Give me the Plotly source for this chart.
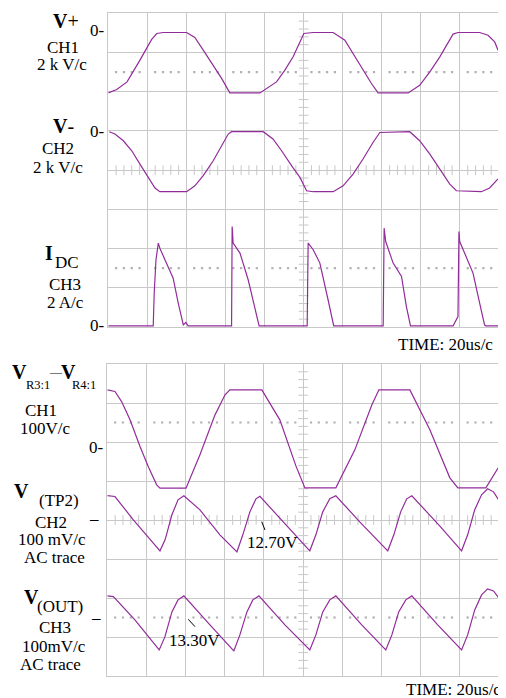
import plotly.graph_objects as go

W, H = 506, 698
OFF = 8  # page body margin in the browser

# ---------------- data (time in us, 20 us/div) ----------------
time_ticks = list(range(0, 201, 20))

# Top screen
vplus_t = [0, 4.3, 9.6, 12.8, 16.2, 19.6, 22.2, 24.8, 28.1, 40.1, 44.3, 48.6, 53.7, 58.0, 61.4, 62.2,
           77.6, 81.0, 86.1, 90.4, 94.6, 98.1, 100.1, 104.9, 115.1, 121.1, 125.3, 130.4, 134.7, 138.1,
           153.5, 159.4, 164.6, 169.7, 173.9, 176.5, 179.0, 190.1, 194.4, 197.8, 199.5]
vplus_kv = [-3.20, -3.03, -2.64, -2.13, -1.53, -0.93, -0.47, -0.17, -0.12, -0.12, -0.37, -1.02, -1.79, -2.46, -3.06, -3.20,
            -3.20, -2.97, -2.64, -2.04, -1.36, -0.60, -0.17, -0.12, -0.12, -0.51, -1.19, -2.04, -2.72, -3.20,
            -3.20, -2.81, -2.13, -1.36, -0.60, -0.20, -0.12, -0.12, -0.26, -0.60, -1.02]

vminus_t = [0.5, 3.4, 7.7, 12.0, 16.2, 20.5, 23.9, 26.4, 40.1, 44.3, 48.6, 53.7, 58.0, 61.4, 63.1,
            79.3, 84.3, 88.7, 93.8, 98.1, 101.5, 104.9, 115.1, 120.2, 125.3, 130.4, 135.5, 139.0,
            154.3, 159.4, 164.6, 169.7, 174.8, 178.2, 191.0, 195.2, 199.5]
vminus_kv = [0, -0.12, -0.46, -0.97, -1.65, -2.33, -2.87, -3.06, -3.06, -2.76, -2.24, -1.48, -0.71, -0.12, 0,
             0, -0.37, -0.97, -1.73, -2.33, -3.01, -3.06, -3.06, -2.76, -2.16, -1.39, -0.55, -0.04,
             0, -0.46, -1.14, -1.90, -2.67, -3.01, -3.06, -2.87, -2.41]

idc_t = [0, 23.0, 23.5, 24.4, 25.6, 26.4, 29.0, 33.2, 35.8, 38.4, 39.7, 40.9, 63.1,
         63.4, 63.9, 67.4, 71.6, 75.0, 77.2, 101.8,
         102.3, 104.9, 108.3, 112.5, 115.1, 115.4, 140.7,
         141.2, 142.0, 145.8, 150.1, 152.6, 154.7, 176.5,
         179.0, 179.5, 179.9, 183.3, 186.7, 190.1, 192.6, 193.2, 199.8]
idc_a = [0, 0, 1.67, 3.37, 4.22, 3.96, 3.37, 2.43, 1.16, 0.05, 0.17, 0, 0,
         5.07, 4.22, 3.71, 2.35, 0.98, 0, 0,
         4.22, 3.88, 3.20, 1.33, 0.05, 0, 0,
         4.98, 4.30, 3.20, 2.52, 0.98, 0, 0,
         0.47, 4.81, 4.30, 3.45, 2.69, 1.16, 0.05, 0, 0]

# Bottom screen
vr_t = [0, 3.9, 7.3, 11.6, 16.7, 20.9, 25.2, 26.9, 40.2, 47.3, 55.0, 60.1, 62.6, 78.9, 88.1, 96.3,
        100.9, 116.7, 126.4, 135.1, 138.7, 154.5, 164.7, 174.9, 179.0, 193.3, 199.9]
vr_v = [148.7, 144.4, 118.7, 71.8, 3.3, -47.9, -94.9, -103.3, -103.3, -17.9, 84.6, 135.9, 148.7, 148.7, 71.8, -46.2,
        -102.6, -102.6, -5.1, 110.3, 148.7, 148.7, 46.2, -76.9, -102.6, -102.6, -48.7]

tp2_t = [0, 3.9, 13.3, 21.8, 26.9, 29.5, 33.0, 36.1, 39.1, 47.3, 57.5, 66.2, 69.2, 72.8, 75.9, 77.9,
         88.1, 98.3, 103.4, 106.5, 110.0, 113.6, 116.7, 128.9, 143.2, 146.3, 149.8, 152.9, 155.5,
         169.7, 180.9, 184.0, 187.6, 191.1, 194.2, 197.2, 199.8]
tp2_mv = [59.7, 57.2, -2.6, -53.8, -82.0, -53.8, 10.3, 48.7, 59.0, 23.1, -41.0, -84.6, -41.0, 17.9, 51.3, 57.7,
          2.6, -53.8, -82.0, -41.0, 17.9, 51.3, 59.0, -7.7, -82.0, -41.0, 17.9, 51.3, 59.0,
          -17.9, -82.0, -41.0, 23.1, 61.5, 76.9, 69.2, 48.7]

out_t = [0, 3.1, 14.1, 26.5, 29.4, 33.0, 36.1, 39.1, 52.4, 64.6, 67.7, 71.3, 74.3, 77.4,
         90.7, 103.4, 106.5, 110.0, 113.6, 116.7, 129.9, 142.2, 145.3, 148.8, 152.4, 155.5,
         168.7, 180.9, 184.0, 187.6, 191.1, 194.2, 197.2, 199.8]
out_mv = [56.4, 54.6, -5.1, -82.0, -48.7, 15.4, 46.2, 56.4, -17.9, -84.6, -43.6, 15.4, 46.2, 56.4,
          -17.9, -82.0, -43.6, 15.4, 46.2, 56.4, -17.9, -82.0, -43.6, 15.4, 46.2, 56.4,
          -17.9, -82.0, -43.6, 20.5, 59.0, 74.4, 69.2, 51.3]

# ---------------- styling / layout ----------------
TRACE = "#922c9a"
GRID = "#c8c8c8"
DOT = "#b0b0b0"
FONT = "Liberation Serif, Times New Roman, serif"
NDIV = 8
FW, FH = W - OFF, H - OFF


def px_x(x):
    return (x - OFF) / FW


def px_y(y):
    return 1 - (y - OFF) / FH


top_dom_x = [px_x(108.3), px_x(499)]
top_dom_y = [px_y(327), px_y(13.3)]
bot_dom_x = [px_x(107.3), px_x(499)]
bot_dom_y = [px_y(676), px_y(364)]

# channel settings: (scale per div, zero position in divisions from the top)
channels = {
    "y3": (2, 0.43, "y"),      # V+   kV
    "y4": (2, 3.02, "y"),      # V-   kV
    "y5": (2, 7.97, "y"),      # IDC  A
    "y6": (100, 2.15, "y2"),   # VR   V
    "y7": (100, 3.97, "y2"),   # TP2  mV
    "y8": (100, 6.51, "y2"),   # OUT  mV
}

fig = go.Figure()

minor_t = [t for t in range(4, 200, 4) if t % 20]
minor_d = [d / 5 for d in range(1, NDIV * 5) if d % 5]

for xa, ya in (("x", "y"), ("x2", "y2")):
    for row in (1.5, 6.5):
        fig.add_trace(go.Scatter(x=minor_t, y=[row] * len(minor_t), mode="markers", xaxis=xa, yaxis=ya,
                                 marker=dict(symbol="square", size=2.2, color=DOT, line=dict(width=0)),
                                 hoverinfo="skip", showlegend=False))
    fig.add_trace(go.Scatter(x=minor_t, y=[NDIV / 2] * len(minor_t), mode="markers", xaxis=xa, yaxis=ya,
                             marker=dict(symbol="line-ns", size=7, line=dict(width=1, color=GRID)),
                             hoverinfo="skip", showlegend=False))
    fig.add_trace(go.Scatter(x=[100] * len(minor_d), y=minor_d, mode="markers", xaxis=xa, yaxis=ya,
                             marker=dict(symbol="line-ew", size=7, line=dict(width=1, color=GRID)),
                             hoverinfo="skip", showlegend=False))

series = [
    (vplus_t, vplus_kv, "x", "y3"),
    (vminus_t, vminus_kv, "x", "y4"),
    (idc_t, idc_a, "x", "y5"),
    (vr_t, vr_v, "x2", "y6"),
    (tp2_t, tp2_mv, "x2", "y7"),
    (out_t, out_mv, "x2", "y8"),
]
for t, v, xa, ya in series:
    fig.add_trace(go.Scatter(x=t, y=v, mode="lines", xaxis=xa, yaxis=ya,
                             line=dict(color=TRACE, width=1.2), hoverinfo="skip", showlegend=False))

grid_x = dict(range=[0, 200], tickvals=time_ticks, showgrid=True, gridcolor=GRID, gridwidth=1.3,
              showticklabels=False, ticks="", zeroline=False, showline=True, mirror=True,
              linecolor=GRID, linewidth=1.3)
grid_y = dict(range=[0, NDIV], dtick=1, showgrid=True, gridcolor=GRID, gridwidth=1.3,
              showticklabels=False, ticks="", zeroline=False, showline=True, mirror=True,
              linecolor=GRID, linewidth=1.3)

layout = dict(
    width=FW, height=FH, margin=dict(l=0, r=0, t=0, b=0),
    paper_bgcolor="white", plot_bgcolor="white", showlegend=False,
    xaxis=dict(grid_x, domain=top_dom_x, anchor="y"),
    yaxis=dict(grid_y, domain=top_dom_y, anchor="x"),
    xaxis2=dict(grid_x, domain=bot_dom_x, anchor="y2"),
    yaxis2=dict(grid_y, domain=bot_dom_y, anchor="x2"),
)
for name, (scale, zero_div, base) in channels.items():
    key = "yaxis" + name[1:]
    layout[key] = dict(overlaying=base, anchor="x" if base == "y" else "x2",
                       range=[-(NDIV - zero_div) * scale, zero_div * scale], visible=False)
fig.update_layout(**layout)

ann = []


def label(text, x, y, size=17, xanchor="center"):
    ann.append(dict(text=text, x=px_x(x), y=px_y(y), xref="paper", yref="paper", showarrow=False,
                    xanchor=xanchor, yanchor="middle", font=dict(family=FONT, size=size, color="black")))


# zero markers tied to channel axes
for name, txt, xr in (("y3", "0-", 106.5), ("y4", "0-", 106.5), ("y5", "0-", 106.5),
                      ("y6", "0-", 105.5), ("y7", "–", 101), ("y8", "–", 103)):
    ann.append(dict(text=txt, x=px_x(xr), y=0, xref="paper", yref=name, showarrow=False,
                    xanchor="right", yanchor="middle", font=dict(family=FONT, size=17, color="black")))

# top screen labels
label("<b>V</b>+", 66, 21, 20)
label("CH1", 63, 47)
label("2 k V/c", 62, 65)
label("<b>V</b>-", 63, 126, 20)
label("CH2", 58, 148.5)
label("2 k V/c", 58, 167)
label("<b>I</b>", 49, 252.5, 20)
label("DC", 66.5, 263)
label("CH3", 65, 284)
label("2 A/c", 65, 302)
label("TIME: 20us/c", 495, 344, xanchor="right")

# bottom screen labels
label("<b>V</b>", 19, 372.5, 20)
label("R3:1", 37.5, 385, 12.5)
label("—", 56, 371.5, 12)
label("<b>V</b>", 68.5, 372.5, 20)
label("R4:1", 84, 385, 12.5)
label("CH1", 41, 410)
label("100V/c", 45, 429)
label("<b>V</b>", 21.5, 491, 20)
label("(TP2)", 58.5, 500)
label("CH2", 51, 522.5)
label("100 mV/c", 52, 539.5)
label("AC trace", 54, 557.5)
label("<b>V</b>", 31.5, 596.5, 20)
label("(OUT)", 60, 606.5)
label("CH3", 55, 627)
label("100mV/c", 54, 646)
label("AC trace", 50, 664.5)
label("TIME: 20us/c", 503, 689, xanchor="right")

# cursor readouts
label("12.70V", 272.5, 542)
label("13.30V", 194, 640)
fig.update_layout(annotations=ann)

fig.add_shape(type="line", xref="paper", yref="paper", x0=px_x(261.7), y0=px_y(521.7),
              x1=px_x(265), y1=px_y(530), line=dict(color="black", width=1))
fig.add_shape(type="line", xref="paper", yref="paper", x0=px_x(188.3), y0=px_y(619.3),
              x1=px_x(195), y1=px_y(626.7), line=dict(color="black", width=1))

fig.write_html("out.html")
